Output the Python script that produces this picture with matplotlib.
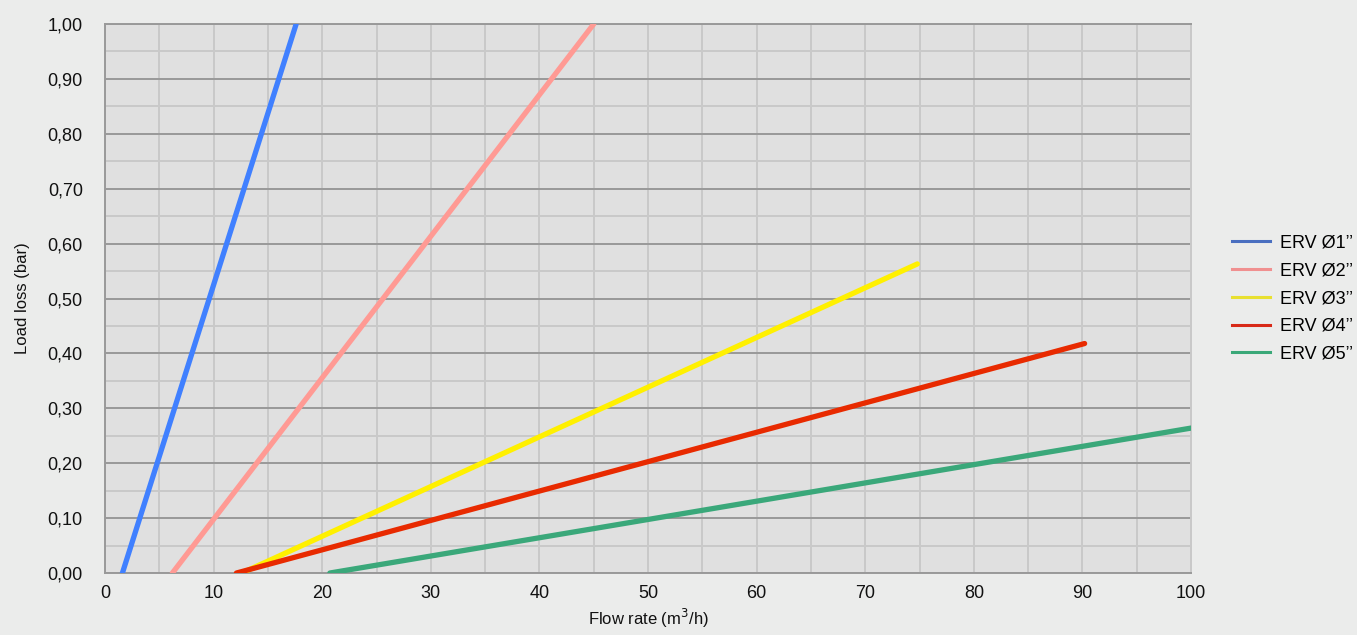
import matplotlib
matplotlib.use("Agg")
import matplotlib.pyplot as plt
from matplotlib.lines import Line2D
from matplotlib.ticker import MultipleLocator, FuncFormatter

plt.rcParams['font.family'] = ['Liberation Sans', 'DejaVu Sans']

# series data (flow rate m3/h, load loss bar)
labels = ["ERV Ø1’’", "ERV Ø2’’", "ERV Ø3’’", "ERV Ø4’’", "ERV Ø5’’"]
erv1_x = [1.6, 17.6]
erv1_y = [0.0, 1.0]
erv2_x = [6.2, 45.0]
erv2_y = [0.0, 1.0]
erv3_x = [12.6, 74.8]
erv3_y = [0.0, 0.563]
erv4_x = [12.1, 90.2]
erv4_y = [0.0, 0.418]
erv5_x = [20.7, 100.0]
erv5_y = [0.0, 0.264]

line_colors = ["#4080ff", "#ff9a94", "#fff000", "#e82a00", "#3aa87a"]
legend_colors = ["#4a6fc0", "#f09090", "#e8e030", "#d82a18", "#3aa878"]

fig = plt.figure(figsize=(13.57, 6.35), dpi=100, facecolor="#ebeceb")
ax = fig.add_axes([0.0774, 0.0976, 0.8003, 0.8646])
ax.set_facecolor("#e0e0e0")

series = [(erv1_x, erv1_y), (erv2_x, erv2_y), (erv3_x, erv3_y),
          (erv4_x, erv4_y), (erv5_x, erv5_y)]
for (xs, ys), c in zip(series, line_colors):
    ax.plot(xs, ys, color=c, lw=3.8, solid_capstyle="round", zorder=3)

ax.set_xlim(0, 100)
ax.set_ylim(0, 1.0)
ax.xaxis.set_major_locator(MultipleLocator(10))
ax.xaxis.set_minor_locator(MultipleLocator(5))
ax.yaxis.set_major_locator(MultipleLocator(0.1))
ax.yaxis.set_minor_locator(MultipleLocator(0.05))
ax.yaxis.set_major_formatter(FuncFormatter(lambda v, p: f"{v:.2f}".replace(".", ",")))

# grid: dark horizontal majors, light everything else
ax.grid(which="major", axis="y", color="#999999", lw=1.4, zorder=1)
ax.grid(which="minor", axis="y", color="#c9c9c9", lw=1.4, zorder=1)
ax.grid(which="both", axis="x", color="#c9c9c9", lw=1.4, zorder=1)
ax.set_axisbelow(True)

ax.tick_params(which="both", length=0, labelsize=13, colors="#111111")
ax.tick_params(axis="y", pad=16)
ax.tick_params(axis="x", pad=8.5)

for s in ["left", "bottom", "top"]:
    ax.spines[s].set_color("#999999")
    ax.spines[s].set_linewidth(1.4)
ax.spines["right"].set_color("#c9c9c9")
ax.spines["right"].set_linewidth(1.4)

ax.set_xlabel("Flow rate (m$^3$/h)", fontsize=12, labelpad=4, color="#111111")
ax.set_ylabel("Load loss (bar)", fontsize=12, labelpad=13, color="#111111")

handles = [Line2D([], [], color=c, lw=2.2) for c in legend_colors]
leg = ax.legend(handles, labels, loc="center left", bbox_to_anchor=(1.031, 0.5),
                borderaxespad=0, frameon=False, fontsize=13, handlelength=2.1,
                handletextpad=0.55, labelspacing=0.6)

fig.savefig("out.png", dpi=100, facecolor=fig.get_facecolor())
